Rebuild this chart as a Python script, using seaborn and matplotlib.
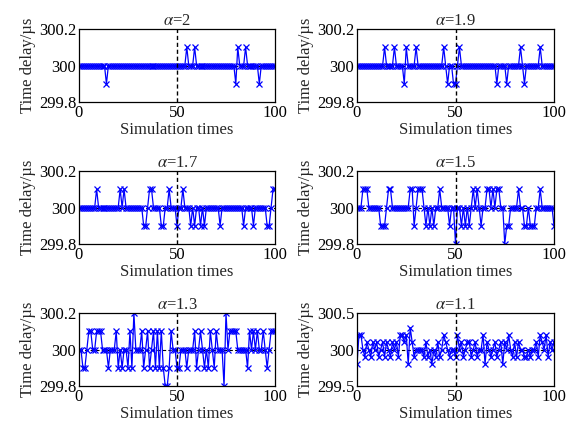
import numpy as np
import matplotlib.pyplot as plt
import seaborn as sns

# simulation index and the six delay traces, deviation from 300 us in 0.1 us steps
sim_times = list(range(0, 101))

dev_a20 = [0, 0, 0, 0, 0, 0, 0, 0, 0, 0,
           0, 0, 0, 0, -1, 0, 0, 0, 0, 0,
           0, 0, 0, 0, 0, 0, 0, 0, 0, 0,
           0, 0, 0, 0, 0, 0, 0, 0, 0, 0,
           0, 0, 0, 0, 0, 0, 0, 0, 0, 0,
           0, 0, 0, 0, 0, 1, 0, 0, 0, 1,
           0, 0, 0, 0, 0, 0, 0, 0, 0, 0,
           0, 0, 0, 0, 0, 0, 0, 0, 0, 0,
           -1, 1, 0, 0, 0, 1, 0, 0, 0, 0,
           0, 0, -1, 0, 0, 0, 0, 0, 0, 0,
           0]

dev_a19 = [0, 0, 0, 0, 0, 0, 0, 0, 0, 0,
           0, 0, 0, 0, 1, 0, 0, 0, 0, 1,
           0, 0, 0, 0, -1, 1, 0, 0, 0, 0,
           1, 0, 0, 0, 0, 0, 0, 0, 0, 0,
           0, 0, 0, 0, 1, 0, -1, 0, 0, -1,
           -1, 0, 1, 0, 0, 0, 0, 0, 0, 0,
           0, 0, 0, 0, 0, 0, 0, 0, 0, 0,
           0, -1, 0, 0, 0, 0, -1, 0, 0, 0,
           0, 0, 0, 1, 0, -1, 0, 0, 0, 0,
           0, 0, 0, 1, 0, 0, 0, 0, 0, 0,
           0]

dev_a17 = [0, 0, 0, 0, 0, 0, 0, 0, 0, 1,
           0, 0, 0, 0, 0, 0, 0, 0, 0, 0,
           0, 1, 0, 1, 0, 0, 0, 0, 0, 0,
           0, 0, 0, -1, -1, 0, 1, 1, 0, 0,
           0, 0, -1, -1, 0, 0, 1, 0, 0, 0,
           -1, 0, 0, 1, 0, 0, 0, -1, 0, -1,
           0, 0, -1, 0, -1, 0, 0, 0, 0, 0,
           0, 0, -1, 0, 0, 0, 0, 0, 0, 0,
           0, 0, 0, 0, -1, 0, 0, 0, 0, -1,
           0, 0, 0, 0, 0, 0, -1, -1, 0, 1,
           1]

dev_a15 = [0, 0, 0, 1, 1, 1, 0, 0, 0, 0,
           0, 0, -1, -1, -1, 0, 1, 1, 0, 0,
           0, 0, 0, 0, 0, 0, 0, 1, 1, -1,
           0, 1, 1, 1, 0, -1, 0, -1, 0, -1,
           0, 0, 1, 0, 0, 0, 0, -1, 0, 0,
           -2, 0, 0, -1, 0, -1, 0, -1, 0, 1,
           0, 1, 0, -1, 0, 0, 1, 1, 0, 1,
           0, 1, 1, 0, 0, -2, -1, -1, 0, 0,
           0, 0, 1, 0, 0, -1, -1, 0, -1, -1,
           -1, 0, 0, 1, 0, 0, 0, 0, 0, 0,
           -1]

dev_a13 = [0, 0, -1, -1, 0, 1, 1, 0, 0, 1,
           1, 1, 0, 0, 0, -1, 0, 0, 0, 1,
           -1, 0, -1, 0, 0, -1, 1, -1, 2, 0,
           0, 0, 1, -1, 0, 1, -1, 0, 1, -1,
           1, -1, 1, -1, -2, -2, -1, 1, 0, 0,
           -1, -1, 0, 0, 0, -1, 0, 0, 0, 1,
           -1, 0, 1, 0, -1, 0, -1, 1, 0, -1,
           1, 0, 0, 0, -2, 2, 0, 1, 1, 1,
           1, 0, 0, 0, 0, 0, -1, 1, 0, 1,
           0, 1, 0, 0, 1, 0, -1, 0, 1, 1,
           1]

dev_a11 = [-2, 2, 2, 0, -1, 1, 0, -1, 1, 0,
           1, -1, 0, 1, -1, 1, 0, -1, 1, 0,
           1, -1, 2, 2, 1, 2, -2, 3, 1, -1,
           0, 0, 0, 0, -1, 1, -1, 0, -2, 0,
           -1, 1, -1, 0, 2, 1, 0, -1, 0, 0,
           -1, 2, 0, 1, -1, 0, 1, 1, -1, 0,
           1, -1, 0, 0, 2, -2, 1, 0, -1, 0,
           1, -1, 0, 1, -2, 1, 0, 2, 0, -1,
           1, -1, 1, 0, 0, -1, -1, 0, -1, 0,
           0, 1, -1, 2, 1, 0, 2, -1, 1, 0,
           1]

titles = [r'$\alpha$=2', r'$\alpha$=1.9', r'$\alpha$=1.7',
          r'$\alpha$=1.5', r'$\alpha$=1.3', r'$\alpha$=1.1']
traces = [dev_a20, dev_a19, dev_a17, dev_a15, dev_a13, dev_a11]
y_ranges = [(299.8, 300.2)] * 5 + [(299.5, 300.5)]
y_ticklabels = [['299.8', '300', '300.2']] * 5 + [['299.5', '300', '300.5']]

sns.set_style('white')
plt.rcParams['font.family'] = ['Liberation Serif', 'DejaVu Serif']
plt.rcParams['mathtext.fontset'] = 'stix'
plt.rcParams['font.size'] = 12

fig = plt.figure(figsize=(5.7, 4.3), dpi=100)
W, H = 570.0, 430.0
lefts = [79, 357]
widths = [196, 197]
tops = [29, 171, 313]
ax_h = 73

for i, (dev, title) in enumerate(zip(traces, titles)):
    row, col = divmod(i, 2)
    rect = [lefts[col] / W, 1 - (tops[row] + ax_h) / H, widths[col] / W, ax_h / H]
    ax = fig.add_axes(rect)
    delay = 300 + 0.1 * np.array(dev)
    lo, hi = y_ranges[i]

    ax.axhline(300, color='black', lw=0.8, ls=(0, (3, 2)), zorder=1)
    ax.axvline(50, color='black', lw=1.0, ls=(0, (3, 2)), zorder=3)
    sns.lineplot(x=sim_times, y=delay, ax=ax, color='#0000ff', lw=0.9,
                 marker='x', markersize=5, markeredgewidth=0.9,
                 markeredgecolor='#0000ff', zorder=2)

    ax.set_xlim(0, 100)
    ax.set_ylim(lo, hi)
    ax.set_xticks([0, 50, 100])
    ax.set_yticks([lo, 300, hi])
    ax.set_yticklabels(y_ticklabels[i])
    ax.tick_params(direction='in', length=3, width=0.8, pad=2,
                   labelsize=12, colors='black')
    for s in ax.spines.values():
        s.set_color('black')
        s.set_linewidth(0.9)
    ax.set_title(title, fontsize=12, pad=3)
    ax.set_xlabel('Simulation times', fontsize=12, labelpad=1)
    ax.set_ylabel('Time delay/µs', fontsize=12, labelpad=2)

fig.savefig('out.png', dpi=100)
